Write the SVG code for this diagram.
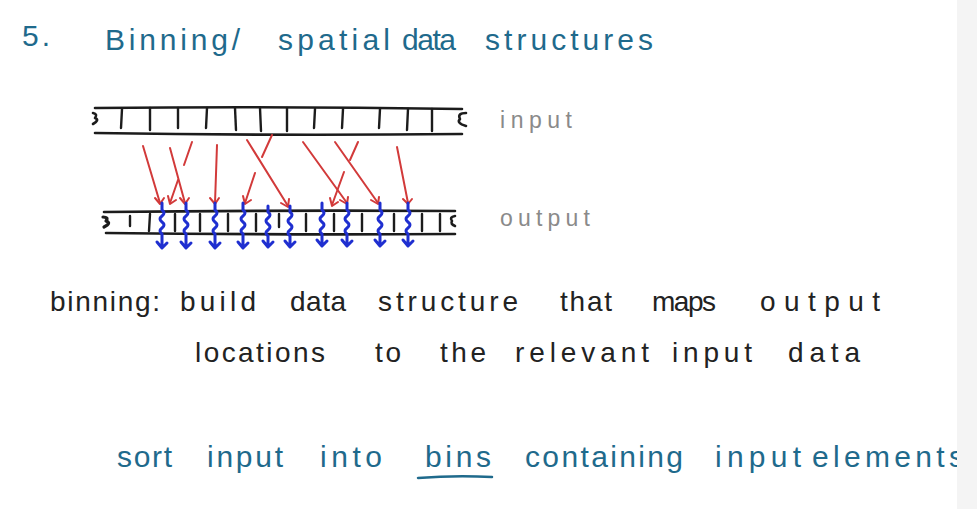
<svg xmlns="http://www.w3.org/2000/svg" width="977" height="509" viewBox="0 0 977 509">
<style>
.t{font-family:"Liberation Sans","DejaVu Sans",sans-serif;}
.blue{fill:#1f6a8c;font-size:30px;}
.blk{fill:#222;font-size:28px;}
.gry{fill:#8a8a8a;font-size:23px;}
.arr{fill:none;stroke:#1c1c1c;stroke-width:2.6;stroke-linecap:round;stroke-linejoin:round;}
.tk{fill:none;stroke:#1c1c1c;stroke-width:2.4;stroke-linecap:round;}
.red{fill:none;stroke:#d23a3a;stroke-width:2;stroke-linecap:round;stroke-linejoin:round;}
.bl{fill:none;stroke:#1f2fd0;stroke-width:3;stroke-linecap:round;stroke-linejoin:round;}
</style>
<rect width="977" height="509" fill="#ffffff"/>

<g id="title" class="t blue">
<text x="22" y="46" textLength="28" lengthAdjust="spacing">5.</text>
<text x="105" y="50" textLength="135" lengthAdjust="spacing">Binning/</text>
<text x="278" y="50" textLength="112" lengthAdjust="spacing">spatial</text>
<text x="402" y="50" textLength="54" lengthAdjust="spacing">data</text>
<text x="485" y="50" textLength="168" lengthAdjust="spacing">structures</text>
</g>

<g id="input-array">
<path class="arr" d="M95,108 Q280,106 462,109"/>
<path class="arr" d="M95,133 Q280,136 462,134"/>
<path class="arr" d="M93,113 q5,1 2,5 q5,2 -2,6"/>
<path class="arr" d="M466,113 q-9,0 -6,6 q-4,4 6,7"/>
<g class="tk">
<path d="M122,109 L121,128"/><path d="M150,108 L150,130"/><path d="M178,108 L178,128"/>
<path d="M207,108 L206,128"/><path d="M235,108 L236,130"/><path d="M260,108 L261,131"/>
<path d="M287,108 L287,131"/><path d="M315,109 L314,128"/><path d="M343,109 L342,128"/>
<path d="M380,109 L379,128"/><path d="M408,109 L407,130"/><path d="M432,109 L432,131"/>
</g>
<text class="t gry" x="500" y="128" textLength="72" lengthAdjust="spacing">input</text>
</g>

<g id="output-array">
<path class="arr" d="M104,212 Q280,210 455,211"/>
<path class="arr" d="M106,233 Q280,235 455,234"/>
<path class="arr" d="M103,217 q6,0 3,4 q6,2 -2,6" style="stroke-width:3.2"/>
<path class="arr" d="M455,216 q-6,1 -3,5 q-2,3 3,5"/>
<g class="tk">
<path d="M130,216 L130,226"/><path d="M150,214 L149,231"/><path d="M175,214 L175,231"/>
<path d="M200,214 L200,231"/><path d="M228,214 L228,231"/><path d="M256,214 L256,231"/>
<path d="M279,214 L279,227"/><path d="M306,214 L306,231"/><path d="M334,214 L334,231"/>
<path d="M362,214 L362,231"/><path d="M394,214 L394,231"/><path d="M422,214 L422,231"/>
<path d="M440,214 L440,231"/>
</g>
<text class="t gry" x="500" y="226" textLength="90" lengthAdjust="spacing">output</text>
</g>

<g id="connectors">
<g class="red">
<path d="M143,146 L160,203"/><path d="M155,198 L160,204 L164,198"/>
<path d="M170,148 L185,203"/><path d="M180,198 L185,204 L189,198"/>
<path d="M192,142 L184,165"/><path d="M178,180 L170,203"/><path d="M168,196 L170,204 L176,200"/>
<path d="M217,145 L215,203"/><path d="M210,198 L215,204 L219,198"/>
<path d="M247,140 L288,206"/><path d="M281,203 L288,207 L289,199"/>
<path d="M272,135 L262,157"/><path d="M255,173 L245,203"/><path d="M243,196 L245,204 L251,200"/>
<path d="M303,142 L347,203"/><path d="M340,200 L347,204 L348,197"/>
<path d="M335,142 L378,203"/><path d="M371,200 L378,204 L379,197"/>
<path d="M358,142 L350,160"/><path d="M344,172 L332,205"/><path d="M330,198 L332,206 L338,202"/>
<path d="M397,147 L408,203"/><path d="M403,199 L408,204 L412,199"/>
</g>
<g class="bl">
<path d="M162,203 L162,210 q4,3 0,6 q-4,3 0,6 q4,3 0,6 q-4,3 0,6 L162,247 M157,242 L162,248 L167,243"/>
<path d="M186,203 L186,210 q4,3 0,6 q-4,3 0,6 q4,3 0,6 q-4,3 0,6 L186,247 M181,242 L186,248 L191,243"/>
<path d="M215,203 L215,210 q4,3 0,6 q-4,3 0,6 q4,3 0,6 q-4,3 0,6 L215,247 M210,242 L215,248 L220,243"/>
<path d="M243,203 L243,210 q4,3 0,6 q-4,3 0,6 q4,3 0,6 q-4,3 0,6 L243,247 M238,242 L243,248 L248,243"/>
<path d="M268,206 L268,212 q4,3 0,6 q-4,3 0,6 q4,3 0,6 q-4,3 0,6 L268,246 M263,241 L268,247 L273,242"/>
<path d="M290,206 L290,212 q4,3 0,6 q-4,3 0,6 q4,3 0,6 q-4,3 0,6 L290,246 M285,241 L290,247 L295,242"/>
<path d="M322,203 L322,210 q4,3 0,6 q-4,3 0,6 q4,3 0,6 q-4,3 0,6 L322,245 M317,240 L322,246 L327,241"/>
<path d="M347,203 L347,210 q4,3 0,6 q-4,3 0,6 q4,3 0,6 q-4,3 0,6 L347,245 M342,240 L347,246 L352,241"/>
<path d="M380,203 L380,210 q4,3 0,6 q-4,3 0,6 q4,3 0,6 q-4,3 0,6 L380,245 M375,240 L380,246 L385,241"/>
<path d="M408,203 L408,210 q4,3 0,6 q-4,3 0,6 q4,3 0,6 q-4,3 0,6 L408,245 M403,240 L408,246 L413,241"/>
</g>
</g>

<g id="binning-text" class="t blk">
<text x="50" y="311" textLength="110" lengthAdjust="spacing">binning:</text>
<text x="180" y="311" textLength="76" lengthAdjust="spacing">build</text>
<text x="290" y="311" textLength="56" lengthAdjust="spacing">data</text>
<text x="378" y="311" textLength="140" lengthAdjust="spacing">structure</text>
<text x="560" y="311" textLength="52" lengthAdjust="spacing">that</text>
<text x="652" y="311" textLength="64" lengthAdjust="spacing">maps</text>
<text x="760" y="311" textLength="120" lengthAdjust="spacing">output</text>
<text x="195" y="362" textLength="130" lengthAdjust="spacing">locations</text>
<text x="375" y="362" textLength="26" lengthAdjust="spacing">to</text>
<text x="440" y="362" textLength="46" lengthAdjust="spacing">the</text>
<text x="515" y="362" textLength="134" lengthAdjust="spacing">relevant</text>
<text x="672" y="362" textLength="80" lengthAdjust="spacing">input</text>
<text x="788" y="362" textLength="72" lengthAdjust="spacing">data</text>
</g>

<g id="sort-text" class="t blue">
<text x="117" y="467" textLength="55" lengthAdjust="spacing">sort</text>
<text x="207" y="467" textLength="76" lengthAdjust="spacing">input</text>
<text x="320" y="467" textLength="62" lengthAdjust="spacing">into</text>
<text x="425" y="467" textLength="66" lengthAdjust="spacing">bins</text>
<path d="M418,478 Q455,475 492,477" fill="none" stroke="#1f6a8c" stroke-width="2.5" stroke-linecap="round"/>
<text x="525" y="467" textLength="158" lengthAdjust="spacing">containing</text>
<text x="715" y="467" textLength="86" lengthAdjust="spacing">input</text>
<text x="812" y="467" textLength="152" lengthAdjust="spacing">elements</text>
</g>

<rect x="957" y="0" width="20" height="509" fill="#f4f4f4"/>
</svg>
